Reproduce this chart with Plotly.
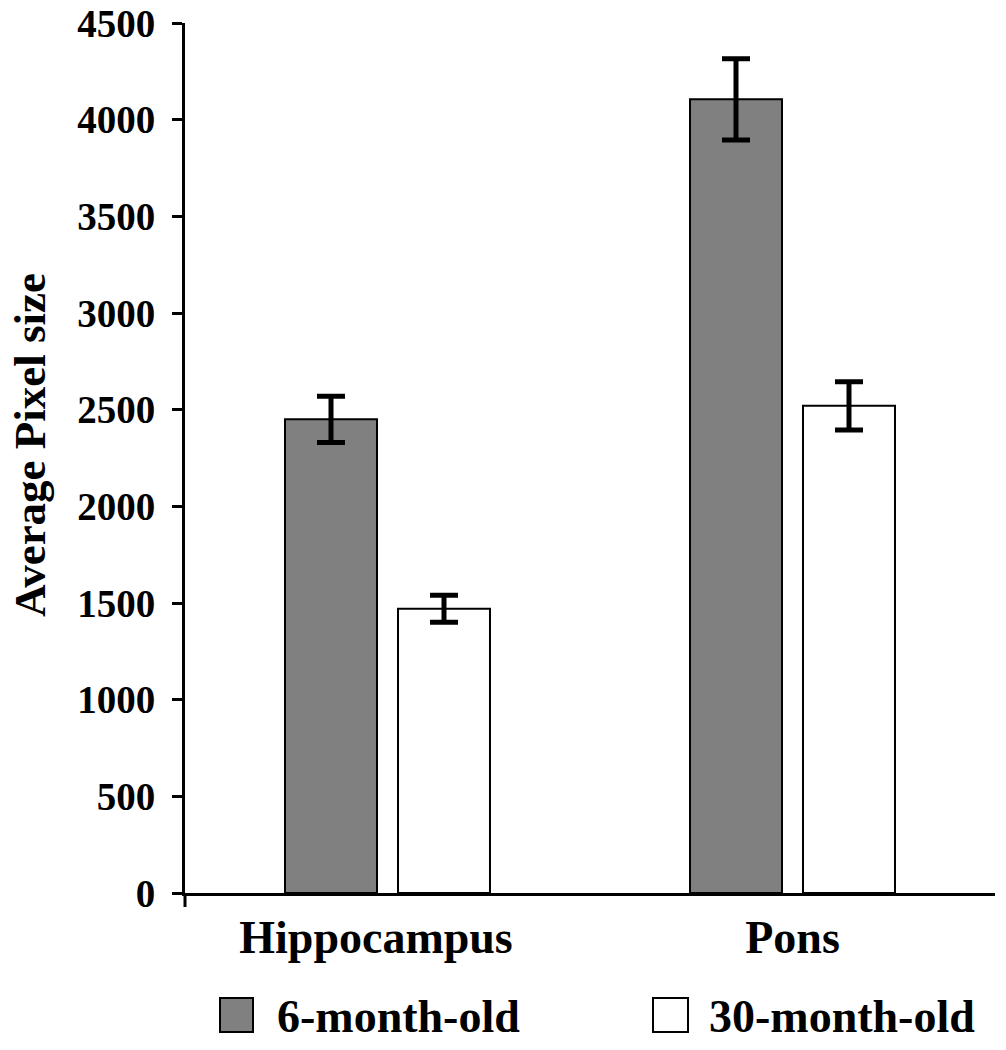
import plotly.graph_objects as go

categories = ["Hippocampus", "Pons"]
series_names = ["6-month-old", "30-month-old"]
young_values = [2450, 4105]
young_errors = [120, 210]
old_values = [1470, 2520]
old_errors = [70, 125]
y_ticks = [0, 500, 1000, 1500, 2000, 2500, 3000, 3500, 4000, 4500]
y_title = "Average Pixel size"

W, H = 1006, 1050
L, R, T, B = 185, 11, 23, 157
PW, PH = W - L - R, H - T - B
FONT = "Liberation Serif, Times New Roman, serif"
GRAY = "#808080"


def px_x(px):
    return (px - L) / PW


def px_y(py):
    return (H - B - py) / PH


fig = go.Figure()
fig.add_trace(go.Bar(
    x=categories, y=young_values, name=series_names[0],
    marker=dict(color=GRAY, line=dict(color="black", width=2)),
    error_y=dict(type="data", array=young_errors, color="black", thickness=5, width=14),
))
fig.add_trace(go.Bar(
    x=categories, y=old_values, name=series_names[1],
    marker=dict(color="white", line=dict(color="black", width=2)),
    error_y=dict(type="data", array=old_errors, color="black", thickness=5, width=14),
))

# y-axis line extension below zero
fig.add_shape(type="line", xref="paper", yref="paper", x0=0, x1=0,
              y0=0, y1=px_y(907), line=dict(color="black", width=3))

# y-axis title
fig.add_annotation(xref="paper", yref="paper", x=px_x(30), y=px_y(445),
                   xanchor="center", yanchor="middle", showarrow=False,
                   textangle=-90, text="<b>%s</b>" % y_title,
                   font=dict(family=FONT, size=45, color="black"))

# custom legend
legend_items = [(series_names[0], GRAY, 220, 253, 275), (series_names[1], "white", 653, 688, 707)]
for name, col, sx0, sx1, tx in legend_items:
    fig.add_shape(type="rect", xref="paper", yref="paper",
                  x0=px_x(sx0), x1=px_x(sx1), y0=px_y(1032), y1=px_y(998),
                  fillcolor=col, line=dict(color="black", width=2))
    fig.add_annotation(xref="paper", yref="paper", x=px_x(tx), y=px_y(1016),
                       xanchor="left", yanchor="middle", showarrow=False,
                       text="<b>%s</b>" % name,
                       font=dict(family=FONT, size=46, color="black"))

fig.update_layout(
    width=W, height=H,
    margin=dict(l=L, r=R, t=T, b=B, pad=0, autoexpand=False),
    paper_bgcolor="white", plot_bgcolor="white",
    barmode="group", bargap=0.442, bargroupgap=0.186,
    showlegend=False,
    font=dict(family=FONT, color="black"),
)
fig.update_xaxes(
    automargin=False,
    showline=True, linecolor="black", linewidth=3,
    ticks="", showgrid=False, zeroline=False,
    tickfont=dict(family=FONT, size=46, color="black"),
    ticklabelstandoff=2,
    tickvals=categories,
    ticktext=["<b>%s</b>&nbsp;&nbsp;" % categories[0], "<b>%s</b>" % categories[1]],
)
fig.update_yaxes(
    automargin=False,
    range=[0, 4500], tickvals=y_ticks,
    ticktext=["<b>%d</b>" % v for v in y_ticks],
    showline=True, linecolor="black", linewidth=3,
    ticks="outside", ticklen=10, tickwidth=3, tickcolor="black",
    showgrid=False, zeroline=False,
    tickfont=dict(family=FONT, size=39, color="black"),
    ticklabelstandoff=9,
)
fig.write_html("out.html", config={"displayModeBar": False},
               post_script="document.body.style.margin='0';document.body.style.overflow='hidden';")
